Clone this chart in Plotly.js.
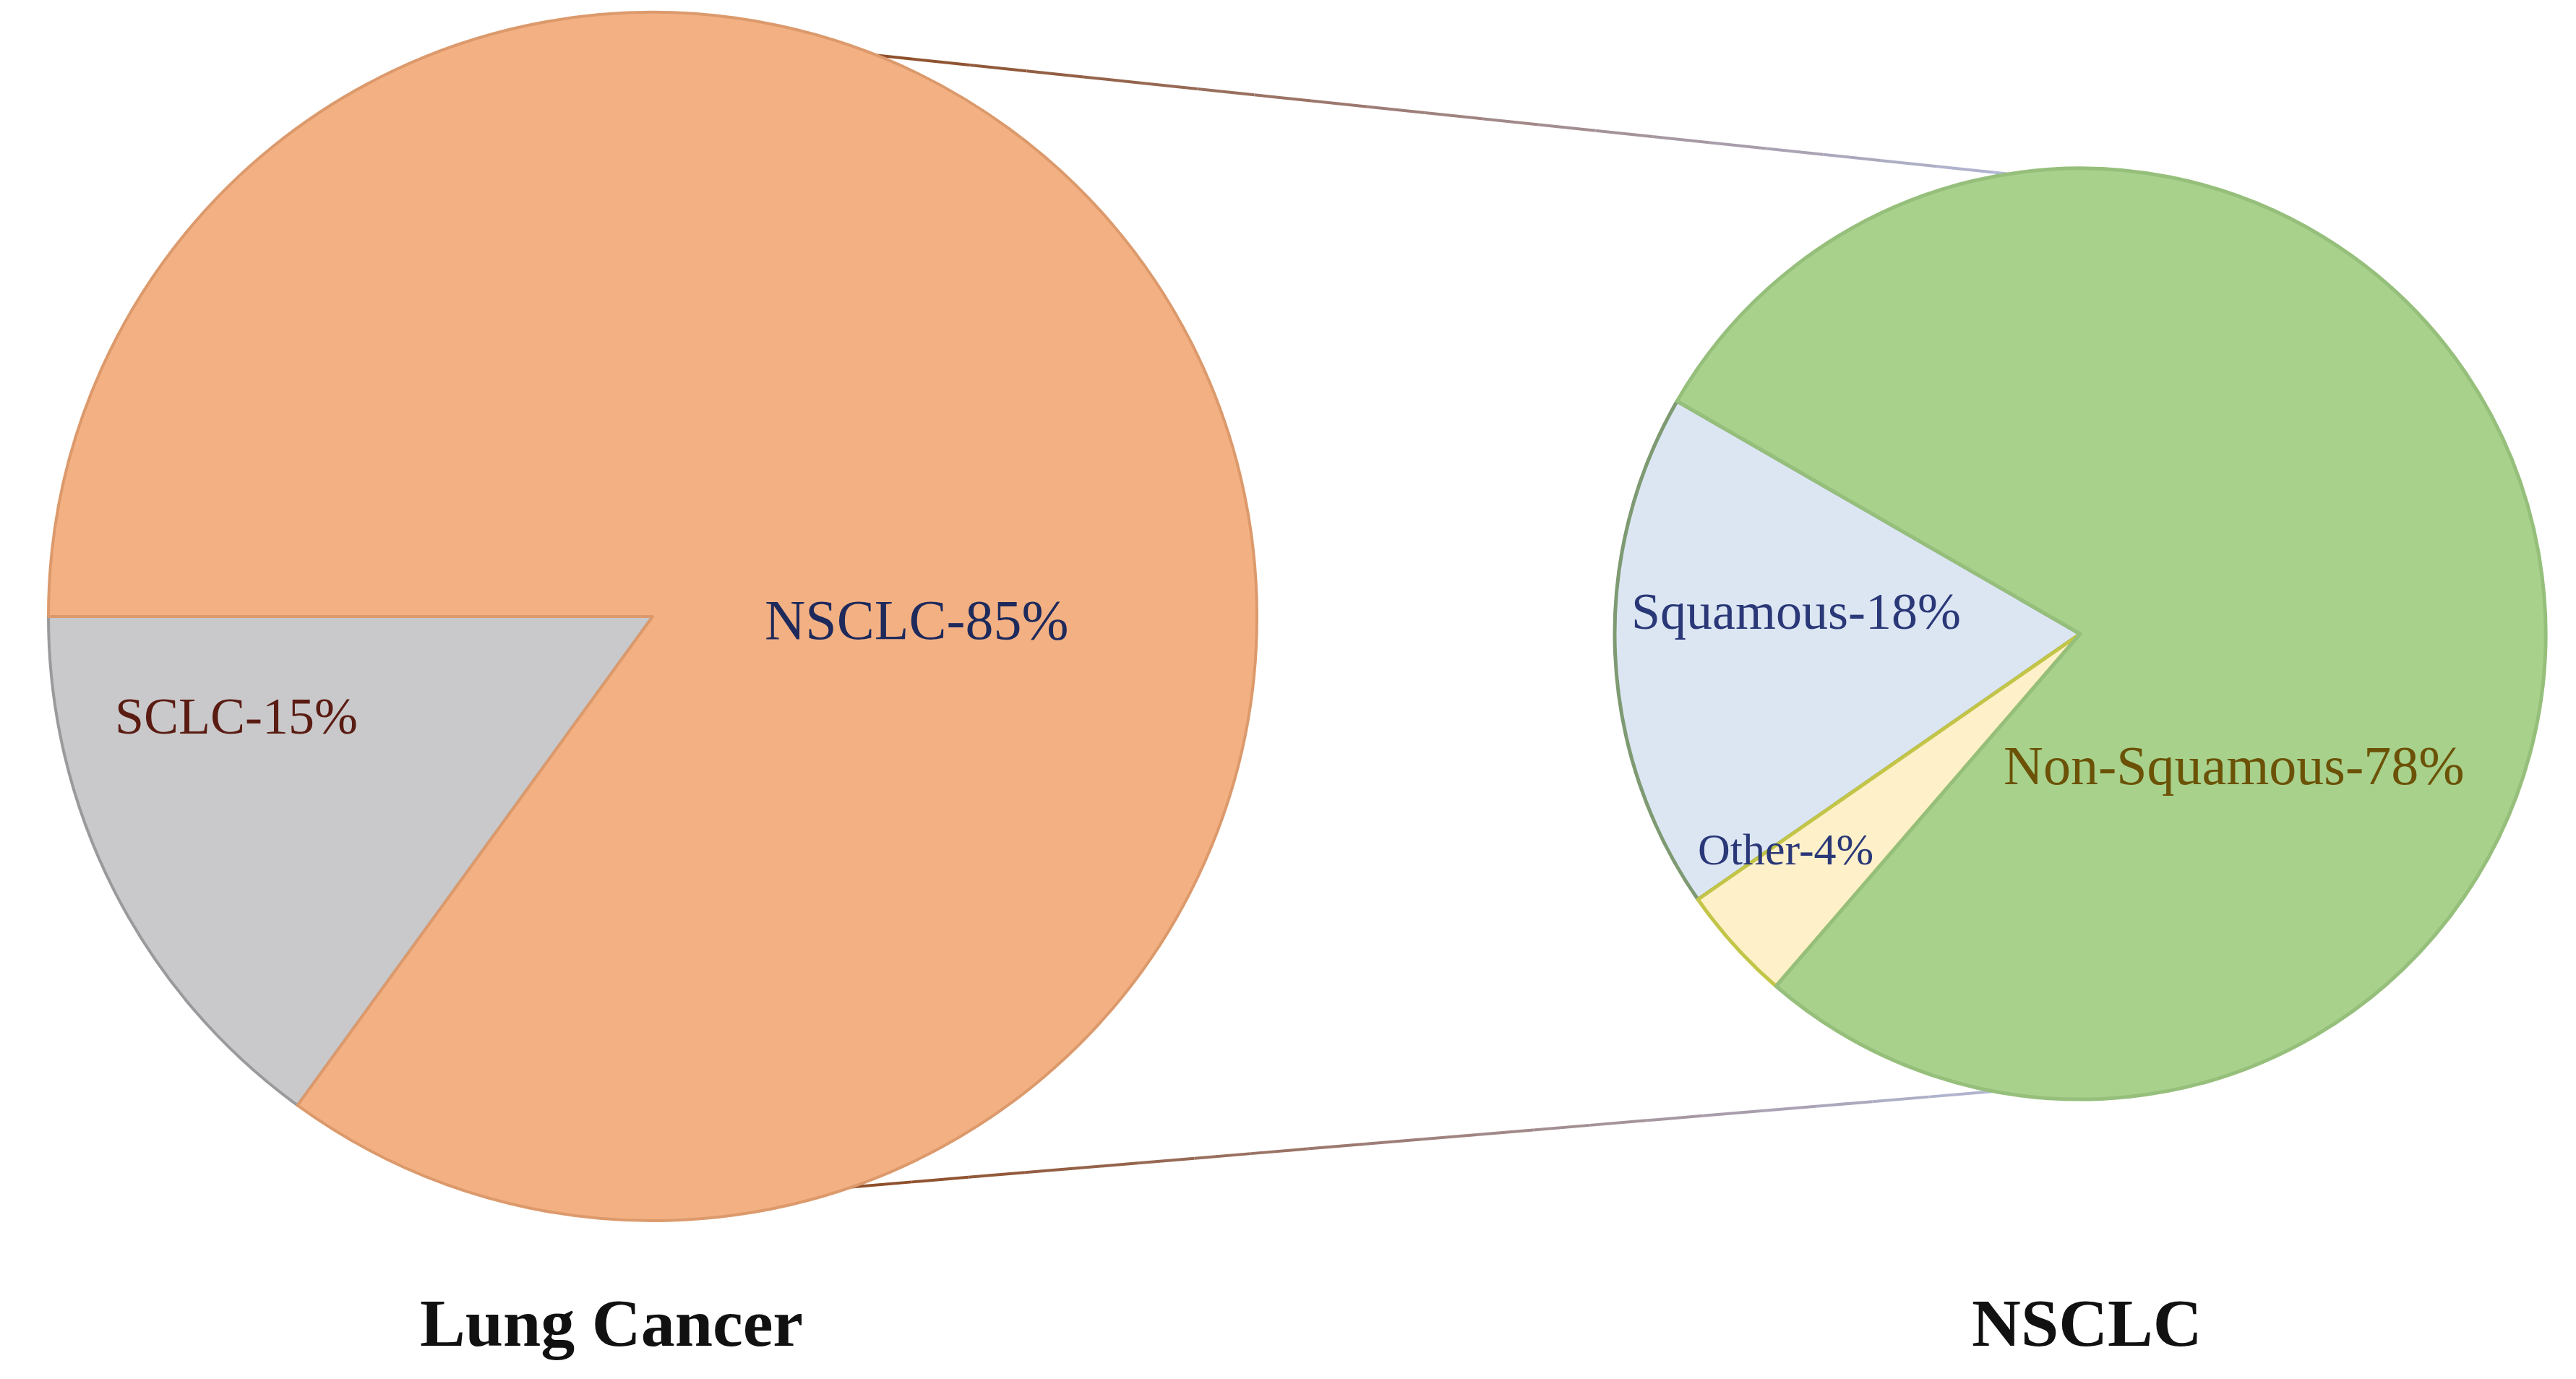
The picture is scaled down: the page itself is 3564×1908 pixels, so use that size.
<!DOCTYPE html>
<html>
<head>
<meta charset="utf-8">
<script src="https://cdn.plot.ly/plotly-3.0.1.min.js"></script>
<style>html,body{margin:0;padding:0;background:#fff;}#chart{width:3564px;height:1908px;}</style>
</head>
<body>
<div id="chart"></div>
<script>
// ---- data ----
var lungLabels = ["SCLC", "NSCLC"];
var lungValues = [15, 85];
var nsclcLabels = ["Squamous", "Other", "Non-Squamous"];
var nsclcValues = [18, 4, 78];
var chartTitles = ["Lung Cancer", "NSCLC"];

// ---- geometry helpers (layout only) ----
var W = 3564, H = 1908;
function px(x){ return x / W; }
function py(y){ return 1 - y / H; }
function circleDomain(cx, cy, r){
  return { x: [px(cx - r), px(cx + r)], y: [py(cy + r), py(cy - r)] };
}

var serif = "Liberation Serif, Times New Roman, serif";

var traces = [
  {
    type: "pie",
    labels: lungLabels,
    values: lungValues,
    sort: false,
    direction: "counterclockwise",
    rotation: -144,
    textinfo: "none",
    hoverinfo: "label+percent",
    domain: circleDomain(903, 853, 836),
    marker: {
      colors: ["#c9c9cb", "#f3b183"],
      line: { color: ["#9a9a9c", "#dc9a6c"], width: 4 }
    }
  },
  {
    type: "pie",
    labels: nsclcLabels,
    values: nsclcValues,
    sort: false,
    direction: "counterclockwise",
    rotation: -124.8,
    textinfo: "none",
    hoverinfo: "label+percent",
    domain: circleDomain(2878, 877, 644),
    marker: {
      colors: ["#dce6f3", "#fef0c8", "#a8d18c"],
      line: { color: ["#7e9a72", "#c3c548", "#95bf7b"], width: 5 }
    }
  }
];

// connector lines with a colour fade (brown -> light blue)
function hex(c){ return [parseInt(c.substr(1,2),16), parseInt(c.substr(3,2),16), parseInt(c.substr(5,2),16)]; }
function mix(a, b, t){
  var A = hex(a), B = hex(b);
  return "rgb(" + A.map(function(v,i){ return Math.round(v + (B[i]-v)*t); }).join(",") + ")";
}
var shapes = [];
function fadeLine(x0, y0, x1, y1){
  var n = 24;
  for (var i = 0; i < n; i++){
    var t0 = i / n, t1 = (i + 1) / n;
    shapes.push({
      type: "line", xref: "paper", yref: "paper", layer: "below",
      x0: px(x0 + (x1 - x0) * t0), y0: py(y0 + (y1 - y0) * t0),
      x1: px(x0 + (x1 - x0) * t1), y1: py(y0 + (y1 - y0) * t1),
      line: { color: mix("#8a4214", "#b4c0e4", (t0 + t1) / 2), width: 4 }
    });
  }
}
fadeLine(1027, 57, 2916, 255);
fadeLine(1027, 1655, 2903, 1498);

function lab(i, arrL, arrV){ return arrL[i] + "-" + arrV[i] + "%"; }

var annotations = [
  { text: lab(1, lungLabels, lungValues), x: px(1268), y: py(857), font: { size: 78, color: "#1e2a5c", family: serif } },
  { text: lab(0, lungLabels, lungValues), x: px(327), y: py(991), font: { size: 72, color: "#5a1c12", family: serif } },
  { text: lab(0, nsclcLabels, nsclcValues), x: px(2485), y: py(846), font: { size: 72, color: "#2a3878", family: serif } },
  { text: lab(1, nsclcLabels, nsclcValues), x: px(2470), y: py(1175), font: { size: 62, color: "#2a3878", family: serif } },
  { text: lab(2, nsclcLabels, nsclcValues), x: px(3091), y: py(1059), font: { size: 76, color: "#6b5206", family: serif } },
  { text: "<b>" + chartTitles[0] + "</b>", x: px(846), y: py(1830), font: { size: 94, color: "#111111", family: serif } },
  { text: "<b>" + chartTitles[1] + "</b>", x: px(2887), y: py(1830), font: { size: 94, color: "#111111", family: serif } }
].map(function(a){
  a.xref = "paper"; a.yref = "paper"; a.showarrow = false;
  a.xanchor = "center"; a.yanchor = "middle";
  return a;
});

var layout = {
  width: W, height: H,
  margin: { l: 0, r: 0, t: 0, b: 0, pad: 0 },
  paper_bgcolor: "#ffffff",
  plot_bgcolor: "#ffffff",
  showlegend: false,
  shapes: shapes,
  annotations: annotations
};

Plotly.newPlot("chart", traces, layout, { displayModeBar: false, staticPlot: true });
</script>
</body>
</html>
